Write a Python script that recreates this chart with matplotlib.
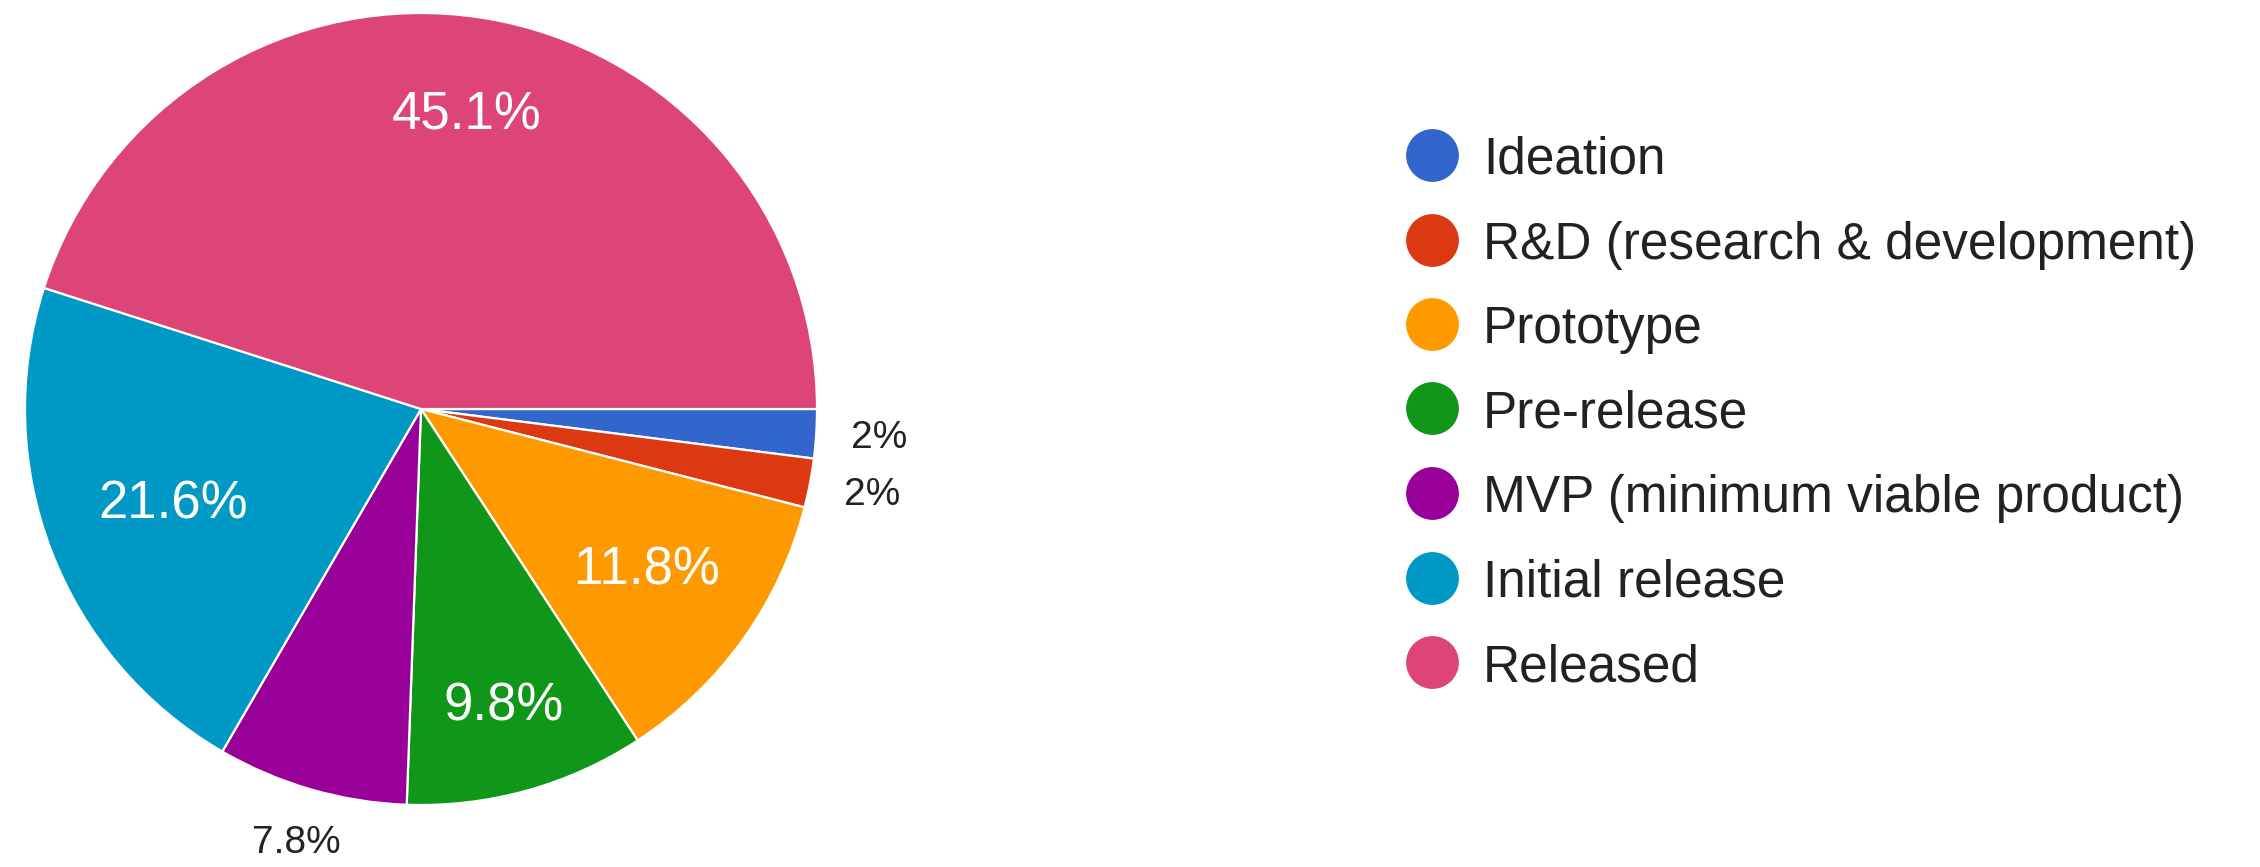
import numpy as np
import matplotlib
matplotlib.use("Agg")
import matplotlib.pyplot as plt
from matplotlib.lines import Line2D

plt.rcParams["font.family"] = ["Liberation Sans", "DejaVu Sans"]

# Survey: current stage of the product
stages = [
    "Ideation",
    "R&D (research & development)",
    "Prototype",
    "Pre-release",
    "MVP (minimum viable product)",
    "Initial release",
    "Released",
]
shares = [2, 2, 11.8, 9.8, 7.8, 21.6, 45.1]
colors = ["#3366CC", "#DC3912", "#FF9900", "#109618", "#990099", "#0099C6", "#DD4477"]

# label placement: radial distance (in pie radii) and whether it sits inside
label_dist = [1.16, 1.16, 0.70, 0.78, 1.14, 0.67, 0.75]
label_inside = [False, False, True, True, False, True, True]

W, H, DPI = 2260, 867, 100
fig = plt.figure(figsize=(W / DPI, H / DPI), dpi=DPI)
fig.patch.set_facecolor("white")

# pie axes: centre (421, 409) px from top-left, radius 396 px
cx, cy, R = 421, H - 409, 396
k = 1.05
ax = fig.add_axes([(cx - R * k) / W, (cy - R * k) / H, 2 * R * k / W, 2 * R * k / H])
wedges, _ = ax.pie(
    shares,
    colors=colors,
    startangle=0,
    counterclock=False,
    radius=1,
    wedgeprops=dict(edgecolor="white", linewidth=1.6),
)
ax.set_xlim(-k, k)
ax.set_ylim(-k, k)
ax.set_aspect("auto")
ax.axis("off")

for w, v, d, inside in zip(wedges, shares, label_dist, label_inside):
    ang = np.deg2rad((w.theta1 + w.theta2) / 2)
    x, y = d * np.cos(ang), d * np.sin(ang)
    ax.text(
        x, y, f"{v:g}%",
        ha="center", va="center",
        fontsize=38 if inside else 28,
        color="white" if inside else "#222222",
        clip_on=False,
    )

# legend: coloured dots with labels
x_dot, x_txt = 1432, 1483
y0, dy = 155, 84.5
for i, (name, c) in enumerate(zip(stages, colors)):
    yy = (H - (y0 + i * dy)) / H
    fig.add_artist(Line2D([x_dot / W], [yy], marker="o", markersize=37,
                          color=c, linestyle="none", transform=fig.transFigure))
    fig.text(x_txt / W, yy, name, ha="left", va="center_baseline",
             fontsize=37, color="#222222")

fig.savefig("out.png", dpi=DPI, facecolor="white")
